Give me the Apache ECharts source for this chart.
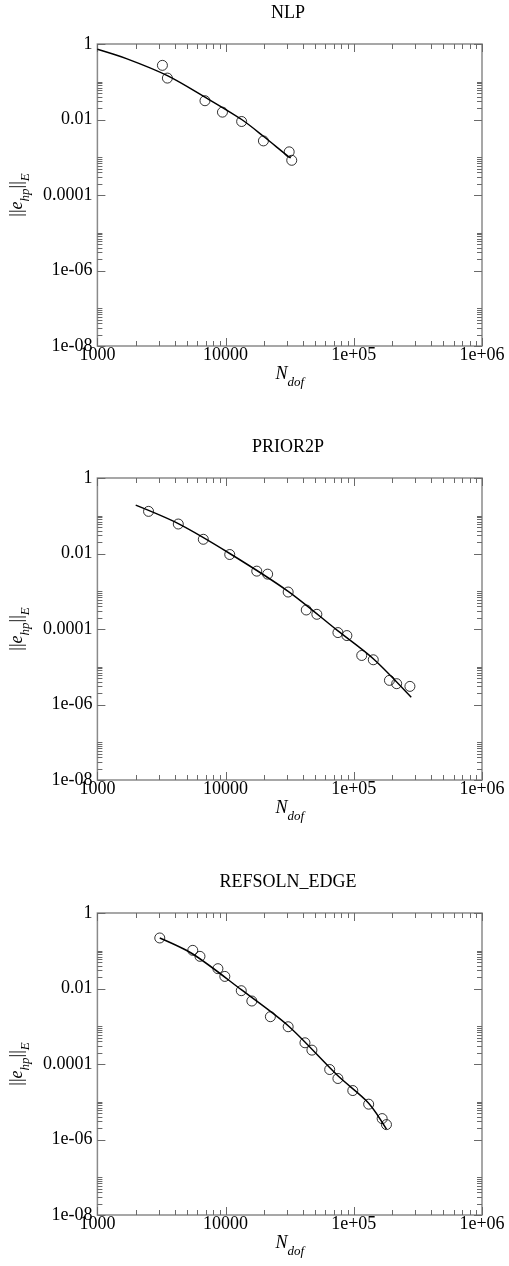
<!DOCTYPE html>
<html>
<head>
<meta charset="utf-8">
<script src="https://cdn.jsdelivr.net/npm/echarts@6/dist/echarts.min.js"></script>
<style>
  html, body { margin: 0; padding: 0; background: #ffffff; }
  #chart { width: 509px; height: 1266px; }
</style>
</head>
<body>
<div id="chart"></div>
<script>
// ---- data -------------------------------------------------------------
const panelTitles = ['NLP', 'PRIOR2P', 'REFSOLN_EDGE'];

// NLP: measured error vs. degrees of freedom, plus fitted curve
const nlpDofs      = [3215, 3515, 6905, 9450, 13340, 19720, 31330, 32800];
const nlpErrors    = [0.272, 0.125, 0.0314, 0.01566, 0.00885, 0.00271, 0.00139, 0.00083];
const nlpFitDofs   = [1000, 1684, 3515, 6905, 13340, 19720, 30760, 32200];
const nlpFitErrors = [0.723, 0.409, 0.145, 0.0391, 0.0100, 0.0036, 0.00106, 0.00096];

// PRIOR2P
const prior2pDofs   = [2506, 4275, 6700, 10770, 17500, 21280, 30760, 42580, 51500,
                       75200, 88300, 115300, 141900, 189700, 216000, 274000];
const prior2pErrors = [0.1306, 0.0604, 0.0238, 0.0094, 0.00341, 0.00284, 0.000953, 0.000319, 0.000245,
                       8.04e-5, 6.7e-5, 1.99e-5, 1.53e-5, 4.36e-6, 3.56e-6, 3.02e-6];
const prior2pFitDofs   = [1990, 4275, 10770, 30760, 75200, 141900, 280500];
const prior2pFitErrors = [0.191, 0.0618, 0.0100, 0.000993, 8.9e-5, 1.63e-5, 1.55e-6];

// REFSOLN_EDGE
const edgeDofs   = [3065, 5545, 6310, 8710, 9860, 13250, 16020, 22350, 30760, 41590, 47120,
                    64860, 75170, 98200, 130600, 166400, 179800];
const edgeErrors = [0.218, 0.1025, 0.0711, 0.0335, 0.0209, 0.00875, 0.00466, 0.00179, 0.00097, 0.000365, 0.000233,
                    7.14e-5, 4.13e-5, 1.98e-5, 8.63e-6, 3.58e-6, 2.48e-6];
const edgeFitDofs   = [3065, 5545, 13250, 30760, 75170, 130600, 179800];
const edgeFitErrors = [0.218, 0.082, 0.00929, 0.00103, 4.86e-5, 9.18e-6, 1.87e-6];

// axis ticks
const xTickValues = [1000, 10000, 100000, 1000000];
const xTickLabels = ['1000', '10000', '1e+05', '1e+06'];
const yTickValues = [1, 0.01, 0.0001, 1e-6, 1e-8];
const yTickLabels = ['1', '0.01', '0.0001', '1e-06', '1e-08'];
const xMinorMultipliers = [2, 3, 4, 5, 6, 7, 8, 9];
const yMinorMultipliers = [2, 3, 4, 5, 6, 7, 8, 9, 10];

// ---- layout & style --------------------------------------------------
const FONT = "'Liberation Serif', 'Times New Roman', 'DejaVu Serif', serif";
const PLOT_LEFT = 94, PLOT_WIDTH = 388, PLOT_HEIGHT = 302;
const PLOT_TOPS = [44, 478, 913];
const FRAME_COLOR = '#8a8a8a';
const TICK_COLOR = '#6a6a6a';

const panels = [
  { dofs: nlpDofs, errors: nlpErrors, fitDofs: nlpFitDofs, fitErrors: nlpFitErrors },
  { dofs: prior2pDofs, errors: prior2pErrors, fitDofs: prior2pFitDofs, fitErrors: prior2pFitErrors },
  { dofs: edgeDofs, errors: edgeErrors, fitDofs: edgeFitDofs, fitErrors: edgeFitErrors }
];

function zip(a, b) { return a.map((v, i) => [v, b[i]]); }

function labelFor(values, labels) {
  return function (v) {
    const e = Math.round(Math.log10(v));
    const i = values.findIndex(t => Math.round(Math.log10(t)) === e);
    return i >= 0 ? labels[i] : '';
  };
}

// tick marks: [x, y, kind]  kind 0 = x minor, 1 = x major, 2 = y minor, 3 = y major
const tickMarks = [];
xTickValues.forEach(v => tickMarks.push([v, 1, 1]));
xTickValues.slice(0, -1).forEach(d => xMinorMultipliers.forEach(m => tickMarks.push([d * m, 1, 0])));
yTickValues.forEach(v => tickMarks.push([1000, v, 3]));
yTickValues.slice(1).forEach(d => yMinorMultipliers.forEach(m => tickMarks.push([1000, d * m, 2])));

function renderTick(params, api) {
  const cs = params.coordSys;
  const kind = api.value(2);
  const style = { stroke: TICK_COLOR, lineWidth: 1 };
  const children = [];
  if (kind < 2) {
    const len = kind === 1 ? 8 : 5;
    const px = Math.round(api.coord([api.value(0), 1])[0]) + 0.5;
    children.push({ type: 'line', shape: { x1: px, y1: cs.y, x2: px, y2: cs.y + len }, style });
    children.push({ type: 'line', shape: { x1: px, y1: cs.y + cs.height, x2: px, y2: cs.y + cs.height - len }, style });
  } else {
    const len = kind === 3 ? 8 : 5;
    const py = Math.round(api.coord([1000, api.value(1)])[1]) + 0.5;
    children.push({ type: 'line', shape: { x1: cs.x, y1: py, x2: cs.x + len, y2: py }, style });
    children.push({ type: 'line', shape: { x1: cs.x + cs.width, y1: py, x2: cs.x + cs.width - len, y2: py }, style });
  }
  return { type: 'group', children };
}

const richName = {
  n:  { fontFamily: FONT, fontSize: 18, color: '#000', verticalAlign: 'top', lineHeight: 20 },
  i:  { fontFamily: FONT, fontSize: 18, fontStyle: 'italic', color: '#000', verticalAlign: 'top', lineHeight: 20 },
  s:  { fontFamily: FONT, fontSize: 13, fontStyle: 'italic', color: '#000', verticalAlign: 'top', padding: [11, 0, 0, 0] }
};

const grids = [], xAxes = [], yAxes = [], series = [], graphics = [];

panels.forEach((p, k) => {
  grids.push({
    left: PLOT_LEFT, top: PLOT_TOPS[k], width: PLOT_WIDTH, height: PLOT_HEIGHT,
    show: true, borderColor: FRAME_COLOR, borderWidth: 1.5, backgroundColor: 'transparent'
  });
  xAxes.push({
    type: 'log', logBase: 10, gridIndex: k, min: 1000, max: 1000000,
    axisLine: { show: false }, axisTick: { show: false }, splitLine: { show: false },
    axisLabel: {
      fontFamily: FONT, fontSize: 18, color: '#000', margin: 0,
      showMinLabel: true, showMaxLabel: true,
      formatter: labelFor(xTickValues, xTickLabels)
    },
    name: '{i|N}{s|dof}', nameLocation: 'middle', nameGap: 19,
    nameTextStyle: { rich: richName }
  });
  yAxes.push({
    type: 'log', logBase: 10, gridIndex: k, min: 1e-8, max: 1,
    axisLine: { show: false }, axisTick: { show: false }, splitLine: { show: false },
    axisLabel: {
      fontFamily: FONT, fontSize: 18, color: '#000', margin: 5,
      showMinLabel: true, showMaxLabel: true,
      formatter: labelFor(yTickValues, yTickLabels)
    },
    name: '{n|||}{i|e}{s|hp}{n|||}{s|E}', nameLocation: 'middle', nameGap: 62, nameRotate: 90,
    nameTextStyle: { rich: richName }
  });
  series.push({
    type: 'custom', xAxisIndex: k, yAxisIndex: k, data: tickMarks,
    encode: { x: 0, y: 1 }, renderItem: renderTick, silent: true, clip: false, z: 1
  });
  series.push({
    type: 'line', xAxisIndex: k, yAxisIndex: k, data: zip(p.fitDofs, p.fitErrors),
    showSymbol: false, smooth: 0.3, lineStyle: { color: '#000', width: 1.5 }, z: 2
  });
  series.push({
    type: 'scatter', xAxisIndex: k, yAxisIndex: k, data: zip(p.dofs, p.errors),
    symbol: 'circle', symbolSize: 10,
    itemStyle: { color: 'rgba(255,255,255,0)', borderColor: '#000', borderWidth: 1 }, z: 3
  });
  graphics.push({
    type: 'text', x: PLOT_LEFT + PLOT_WIDTH / 2, y: PLOT_TOPS[k] - 31,
    style: {
      text: panelTitles[k], fontFamily: FONT, fontSize: 18, fill: '#000',
      textAlign: 'center', textVerticalAlign: 'middle'
    }
  });
});

const chart = echarts.init(document.getElementById('chart'), null, { renderer: 'canvas' });
chart.setOption({
  animation: false,
  backgroundColor: '#fff',
  grid: grids,
  xAxis: xAxes,
  yAxis: yAxes,
  series: series,
  graphic: graphics
});
</script>
</body>
</html>
